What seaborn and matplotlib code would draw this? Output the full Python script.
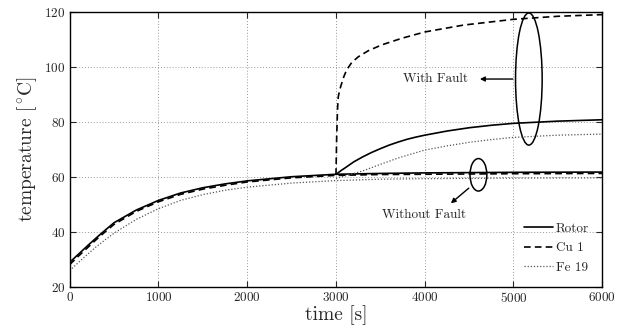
import matplotlib
matplotlib.use("Agg")
import matplotlib.pyplot as plt
from matplotlib.patches import Ellipse
import pandas as pd
import seaborn as sns

# values
t_normal = [0, 100, 200, 300, 400, 500, 750, 1000, 1250, 1500, 1750, 2000, 2500, 3000, 3500, 4000, 5000, 6000]
rotor_normal = [29.0, 32.0, 35.0, 37.9, 40.7, 43.4, 48.0, 51.5, 54.2, 56.1, 57.5, 58.6, 60.1, 61.0, 61.3, 61.5, 61.7, 61.8]
cu1_normal = [28.2, 31.3, 34.3, 37.3, 40.1, 42.8, 47.5, 51.0, 53.7, 55.6, 57.0, 58.2, 59.7, 60.6, 60.9, 61.0, 61.2, 61.3]
fe19_normal = [26.0, 29.0, 31.9, 34.7, 37.2, 39.6, 44.6, 48.5, 51.5, 53.6, 55.2, 56.3, 57.8, 58.7, 59.2, 59.4, 59.6, 59.7]

t_rotor_fault = [3000, 3060, 3120, 3200, 3300, 3400, 3500, 3600, 3700, 3800, 3900, 4000, 4250, 4500, 4750, 5000, 5500, 6000]
rotor_fault = [61.0, 62.4, 63.7, 65.5, 67.3, 68.9, 70.3, 71.6, 72.7, 73.7, 74.5, 75.2, 76.7, 77.9, 78.8, 79.5, 80.3, 80.8]

t_cu1_fault = [3000, 3008, 3018, 3026, 3045, 3064, 3090, 3120, 3177, 3252, 3365, 3515, 3741, 4000, 4436, 5000, 5500, 6000]
cu1_fault = [60.8, 75.0, 85.0, 89.2, 92.0, 94.0, 96.6, 98.9, 101.6, 103.7, 105.9, 108.0, 110.4, 112.7, 115.2, 117.3, 118.4, 119.0]

t_fe19_fault = [3000, 3150, 3300, 3500, 3700, 4000, 4250, 4500, 4750, 5000, 5500, 6000]
fe19_fault = [59.5, 60.8, 62.2, 64.6, 66.9, 69.8, 71.3, 72.6, 73.6, 74.4, 75.2, 75.6]

sns.set_style("ticks")
plt.rcParams.update({
    "font.family": "cmr10",
    "mathtext.fontset": "cm",
    "axes.formatter.use_mathtext": True,
    "axes.unicode_minus": False,
    "xtick.direction": "in",
    "ytick.direction": "in",
    "xtick.top": True,
    "ytick.right": True,
    "xtick.major.size": 4,
    "ytick.major.size": 4,
})

fig, ax = plt.subplots(figsize=(6.28, 3.3), dpi=100)
fig.subplots_adjust(left=0.111, right=0.959, top=0.964, bottom=0.130)

styles = {
    "Rotor": dict(color="black", linestyle="-", linewidth=1.2),
    "Cu 1": dict(color="black", linestyle=(0, (4, 2.5)), linewidth=1.2),
    "Fe 19": dict(color="#555555", linestyle=(0, (1, 1.5)), linewidth=0.9),
}

normal = {"Rotor": rotor_normal, "Cu 1": cu1_normal, "Fe 19": fe19_normal}
fault = {
    "Rotor": (t_rotor_fault, rotor_fault),
    "Cu 1": (t_cu1_fault, cu1_fault),
    "Fe 19": (t_fe19_fault, fe19_fault),
}

for name, vals in normal.items():
    df = pd.DataFrame({"time": t_normal, "temp": vals})
    sns.lineplot(data=df, x="time", y="temp", ax=ax, label=name, **styles[name])

for name, (tt, vals) in fault.items():
    df = pd.DataFrame({"time": tt, "temp": vals})
    sns.lineplot(data=df, x="time", y="temp", ax=ax, label="_nolegend_", **styles[name])

ax.set_xlim(0, 6000)
ax.set_ylim(20, 120)
ax.set_xticks([0, 1000, 2000, 3000, 4000, 5000, 6000])
ax.set_yticks([20, 40, 60, 80, 100, 120])
ax.tick_params(labelsize=9.5, pad=3)
ax.grid(True, linestyle=(0, (1, 2)), color="#999999", linewidth=0.7)
for s in ax.spines.values():
    s.set_linewidth(1.0)
    s.set_color("black")

ax.set_xlabel("time [s]", fontsize=14, labelpad=0)
ax.set_ylabel(r"temperature [$^\circ\!\mathrm{C}$]", fontsize=14, labelpad=4)

# fault annotations
ax.add_patch(Ellipse((5173, 95.6), 300, 48, fill=False, edgecolor="black", linewidth=1.1))
ax.annotate("", xy=(4590, 95.6), xytext=(5023, 95.6),
            arrowprops=dict(arrowstyle="-|>", color="black", lw=1.0, mutation_scale=7))
ax.text(4490, 95.6, "With Fault", ha="right", va="center", fontsize=9.5)

ax.add_patch(Ellipse((4605, 60.8), 190, 11.8, fill=False, edgecolor="black", linewidth=1.1))
ax.annotate("", xy=(4270, 49.8), xytext=(4520, 56.6),
            arrowprops=dict(arrowstyle="-|>", color="black", lw=1.0, mutation_scale=7))
ax.text(3995, 46.3, "Without Fault", ha="center", va="center", fontsize=9.5)

leg = ax.legend(loc="lower right", frameon=False, fontsize=9.5, handlelength=2.2,
                handletextpad=0.2, labelspacing=0.55, borderaxespad=0.6)

fig.savefig("out.png", dpi=100)
